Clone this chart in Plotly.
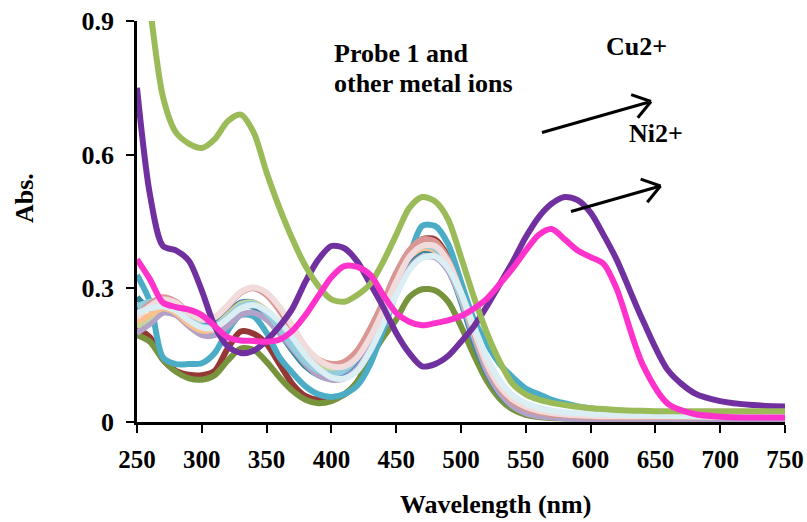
import math
import plotly.graph_objects as go

# ---------------- data ----------------
wavelength = [250, 260, 270, 280, 290, 300, 310, 320, 330, 340,
              350, 360, 370, 380, 390, 400, 410, 420, 430, 440,
              450, 460, 470, 480, 490, 500, 510, 520, 530, 540,
              550, 560, 570, 580, 590, 600, 610, 620, 640, 660,
              680, 700, 725, 750]

abs_red = [0.21, 0.19, 0.14, 0.115, 0.106, 0.105, 0.115, 0.165, 0.203, 0.198,
           0.175, 0.13, 0.085, 0.058, 0.05, 0.053, 0.062, 0.09, 0.15, 0.23,
           0.31, 0.375, 0.41, 0.41, 0.37, 0.29, 0.195, 0.115, 0.06, 0.032,
           0.02, 0.014, 0.011, 0.01, 0.009, 0.009, 0.009, 0.009, 0.009, 0.009,
           0.009, 0.009, 0.009, 0.009]
abs_olive = [0.195, 0.18, 0.14, 0.113, 0.098, 0.095, 0.105, 0.138, 0.165, 0.162,
             0.135, 0.1, 0.07, 0.05, 0.042, 0.047, 0.062, 0.09, 0.143, 0.19,
             0.23, 0.28, 0.298, 0.295, 0.27, 0.215, 0.15, 0.092, 0.052, 0.028,
             0.016, 0.011, 0.009, 0.008, 0.007, 0.007, 0.006, 0.006, 0.006, 0.005,
             0.005, 0.005, 0.005, 0.005]
abs_cyan = [0.33, 0.27, 0.145, 0.13, 0.13, 0.132, 0.155, 0.205, 0.24, 0.237,
            0.2, 0.145, 0.11, 0.08, 0.062, 0.056, 0.063, 0.082, 0.13, 0.206,
            0.29, 0.37, 0.44, 0.44, 0.4, 0.315, 0.23, 0.175, 0.13, 0.1,
            0.075, 0.062, 0.05, 0.042, 0.035, 0.031, 0.028, 0.026, 0.023, 0.021,
            0.02, 0.019, 0.018, 0.018]
abs_darkteal = [0.28, 0.255, 0.27, 0.265, 0.235, 0.22, 0.225, 0.245, 0.262, 0.258,
                0.235, 0.2, 0.16, 0.125, 0.105, 0.098, 0.105, 0.13, 0.18, 0.245,
                0.31, 0.36, 0.385, 0.38, 0.345, 0.27, 0.18, 0.11, 0.062, 0.035,
                0.022, 0.016, 0.013, 0.012, 0.011, 0.011, 0.01, 0.01, 0.01, 0.01,
                0.01, 0.01, 0.01, 0.01]
abs_darkblue = [0.25, 0.265, 0.27, 0.26, 0.235, 0.218, 0.222, 0.245, 0.268, 0.268,
                0.245, 0.21, 0.17, 0.135, 0.112, 0.105, 0.112, 0.14, 0.19, 0.255,
                0.32, 0.37, 0.395, 0.39, 0.35, 0.275, 0.185, 0.112, 0.065, 0.037,
                0.024, 0.017, 0.014, 0.012, 0.011, 0.011, 0.011, 0.011, 0.011, 0.011,
                0.011, 0.011, 0.011, 0.011]
abs_lavender = [0.2, 0.22, 0.245, 0.24, 0.215, 0.195, 0.195, 0.215, 0.24, 0.245,
                0.23, 0.2, 0.165, 0.13, 0.105, 0.095, 0.098, 0.12, 0.165, 0.225,
                0.29, 0.345, 0.37, 0.37, 0.34, 0.275, 0.19, 0.115, 0.065, 0.035,
                0.02, 0.013, 0.01, 0.008, 0.007, 0.006, 0.006, 0.006, 0.006, 0.006,
                0.006, 0.006, 0.006, 0.006]
abs_lightgreen = [0.215, 0.235, 0.26, 0.25, 0.225, 0.21, 0.215, 0.24, 0.265, 0.268,
                  0.25, 0.215, 0.18, 0.148, 0.128, 0.12, 0.125, 0.15, 0.2, 0.26,
                  0.325, 0.375, 0.395, 0.39, 0.355, 0.285, 0.2, 0.128, 0.078, 0.048,
                  0.032, 0.024, 0.02, 0.017, 0.015, 0.014, 0.014, 0.014, 0.014, 0.014,
                  0.014, 0.014, 0.014, 0.014]
abs_peach = [0.225, 0.24, 0.255, 0.245, 0.22, 0.205, 0.21, 0.235, 0.26, 0.265,
             0.25, 0.222, 0.19, 0.158, 0.138, 0.13, 0.135, 0.16, 0.205, 0.26,
             0.32, 0.37, 0.39, 0.385, 0.35, 0.28, 0.2, 0.13, 0.08, 0.05,
             0.033, 0.024, 0.019, 0.016, 0.014, 0.013, 0.012, 0.012, 0.012, 0.012,
             0.012, 0.012, 0.012, 0.012]
abs_lightblue = [0.26, 0.27, 0.275, 0.262, 0.235, 0.215, 0.215, 0.235, 0.26, 0.265,
                 0.245, 0.21, 0.17, 0.135, 0.115, 0.108, 0.115, 0.145, 0.195, 0.26,
                 0.325, 0.375, 0.395, 0.39, 0.35, 0.28, 0.195, 0.125, 0.078, 0.05,
                 0.035, 0.027, 0.022, 0.019, 0.017, 0.016, 0.015, 0.015, 0.014, 0.013,
                 0.013, 0.013, 0.013, 0.013]
abs_rosy = [0.24, 0.265, 0.28, 0.27, 0.245, 0.23, 0.235, 0.26, 0.29, 0.3,
            0.285, 0.25, 0.205, 0.165, 0.14, 0.13, 0.135, 0.16, 0.21, 0.27,
            0.335, 0.385, 0.41, 0.405, 0.365, 0.29, 0.2, 0.125, 0.075, 0.045,
            0.03, 0.022, 0.017, 0.015, 0.013, 0.012, 0.012, 0.012, 0.012, 0.012,
            0.012, 0.012, 0.012, 0.012]
abs_palepink = [0.235, 0.26, 0.275, 0.268, 0.245, 0.23, 0.235, 0.262, 0.292, 0.302,
                0.29, 0.258, 0.215, 0.17, 0.14, 0.125, 0.125, 0.145, 0.19, 0.25,
                0.315, 0.37, 0.395, 0.395, 0.36, 0.29, 0.205, 0.13, 0.08, 0.05,
                0.034, 0.025, 0.02, 0.017, 0.015, 0.014, 0.013, 0.013, 0.013, 0.013,
                0.013, 0.013, 0.013, 0.013]
abs_paleblue = [0.245, 0.255, 0.26, 0.25, 0.228, 0.212, 0.212, 0.232, 0.255, 0.262,
                0.25, 0.225, 0.19, 0.15, 0.12, 0.1, 0.098, 0.115, 0.16, 0.22,
                0.285, 0.34, 0.368, 0.372, 0.345, 0.29, 0.215, 0.145, 0.093, 0.06,
                0.042, 0.032, 0.026, 0.022, 0.02, 0.018, 0.017, 0.016, 0.015, 0.014,
                0.013, 0.012, 0.012, 0.012]
abs_cu = [0.75, 0.51, 0.395, 0.385, 0.362, 0.295, 0.215, 0.17, 0.155, 0.16,
          0.183, 0.215, 0.255, 0.315, 0.365, 0.395, 0.39, 0.36, 0.31, 0.258,
          0.2, 0.155, 0.125, 0.13, 0.148, 0.18, 0.215, 0.26, 0.31, 0.36,
          0.415, 0.46, 0.49, 0.505, 0.498, 0.47, 0.42, 0.365, 0.23, 0.115,
          0.065, 0.047, 0.038, 0.035]
abs_green = [1.15, 0.93, 0.73, 0.65, 0.625, 0.615, 0.635, 0.675, 0.69, 0.65,
             0.56, 0.48, 0.41, 0.35, 0.305, 0.275, 0.27, 0.285, 0.31, 0.36,
             0.42, 0.48, 0.505, 0.495, 0.455, 0.37, 0.28, 0.2, 0.135, 0.085,
             0.062, 0.05, 0.043, 0.038, 0.034, 0.031, 0.029, 0.027, 0.025, 0.024,
             0.024, 0.024, 0.024, 0.024]
abs_ni = [0.365, 0.32, 0.268, 0.258, 0.252, 0.24, 0.215, 0.19, 0.183, 0.182,
          0.18, 0.185, 0.205, 0.24, 0.283, 0.325, 0.35, 0.348, 0.33, 0.285,
          0.245, 0.225, 0.217, 0.222, 0.228, 0.238, 0.255, 0.277, 0.31, 0.345,
          0.385, 0.42, 0.433, 0.41, 0.385, 0.37, 0.355, 0.3, 0.13, 0.04,
          0.018, 0.012, 0.01, 0.01]

series = [
    ("red", abs_red, "#953735"),
    ("olive", abs_olive, "#77933C"),
    ("cyan", abs_cyan, "#4BACC6"),
    ("darkteal", abs_darkteal, "#31859C"),
    ("darkblue", abs_darkblue, "#4F81BD"),
    ("lavender", abs_lavender, "#B3A2C7"),
    ("lightgreen", abs_lightgreen, "#C3D69B"),
    ("peach", abs_peach, "#FAC090"),
    ("lightblue", abs_lightblue, "#93CDDD"),
    ("rosy", abs_rosy, "#D99694"),
    ("palepink", abs_palepink, "#F2DCDB"),
    ("paleblue", abs_paleblue, "#DBEEF4"),
    ("Cu2+", abs_cu, "#7030A0"),
    ("green", abs_green, "#9BBB59"),
    ("Ni2+", abs_ni, "#FF33CC"),
]

x_ticks = [250, 300, 350, 400, 450, 500, 550, 600, 650, 700, 750]
y_ticks = [0, 0.3, 0.6, 0.9]
y_ticklabels = ["0", "0.3", "0.6", "0.9"]

# ---------------- figure ----------------
W, H = 807, 522
ML, MR, MT, MB = 137, 22, 21, 100
PW, PH = W - ML - MR, H - MT - MB

FONT = "Liberation Serif, Times New Roman, serif"

fig = go.Figure()
for name, vals, col in series:
    fig.add_trace(go.Scatter(x=wavelength, y=vals, mode="lines", name=name,
                             line=dict(color=col, width=6, shape="spline", smoothing=0.8),
                             showlegend=False, hoverinfo="skip"))


def px2paper(px, py):
    return (px - ML) / PW, (H - MB - py) / PH


shapes = []


def add_arrow(tail, tip, arm=21, ang=35):
    dx, dy = tip[0] - tail[0], tip[1] - tail[1]
    a = math.atan2(dy, dx)
    segs = [(tail, tip)]
    for s in (1, -1):
        b = a + math.pi + s * math.radians(ang)
        end = (tip[0] + arm * math.cos(b), tip[1] + arm * math.sin(b))
        segs.append((end, tip))
    for p0, p1 in segs:
        x0, y0 = px2paper(*p0)
        x1, y1 = px2paper(*p1)
        shapes.append(dict(type="line", xref="paper", yref="paper",
                           x0=x0, y0=y0, x1=x1, y1=y1,
                           line=dict(color="black", width=3)))


add_arrow((542, 132.5), (651, 101.5))
add_arrow((571, 211.5), (660.5, 186))

annotations = []


def add_text(text, px, py, xanchor="left", size=26, angle=0):
    x, y = px2paper(px, py)
    annotations.append(dict(text=text, x=x, y=y, xref="paper", yref="paper",
                            xanchor=xanchor, yanchor="middle", showarrow=False,
                            textangle=angle,
                            font=dict(family=FONT, size=size, color="black", weight="bold")))


add_text("Probe 1 and", 332, 53)
add_text("other metal ions", 332, 83)
add_text("Cu2+", 604, 47)
add_text("Ni2+", 627, 133)
add_text("Abs.", 24, 198, xanchor="center", angle=-90)
add_text("Wavelength (nm)", 495, 505, xanchor="center")

fig.update_layout(
    width=W, height=H, autosize=False,
    margin=dict(l=ML, r=MR, t=MT, b=MB, pad=0, autoexpand=False),
    paper_bgcolor="white", plot_bgcolor="white",
    shapes=shapes, annotations=annotations,
    xaxis=dict(range=[250, 750], tickvals=x_ticks, ticks="outside", ticklen=8,
               tickwidth=2, tickcolor="black", showline=True, linewidth=2.5,
               linecolor="black", showgrid=False, zeroline=False, automargin=False,
               ticklabelstandoff=5,
               tickfont=dict(family=FONT, size=25, color="black", weight="bold")),
    yaxis=dict(range=[0, 0.9], tickvals=y_ticks, ticktext=y_ticklabels,
               ticks="outside", ticklen=8, tickwidth=2, tickcolor="black",
               showline=True, linewidth=2.5, linecolor="black", showgrid=False,
               zeroline=False, automargin=False, ticklabelstandoff=7,
               tickfont=dict(family=FONT, size=26, color="black", weight="bold")),
)

fig.write_html("out.html")
